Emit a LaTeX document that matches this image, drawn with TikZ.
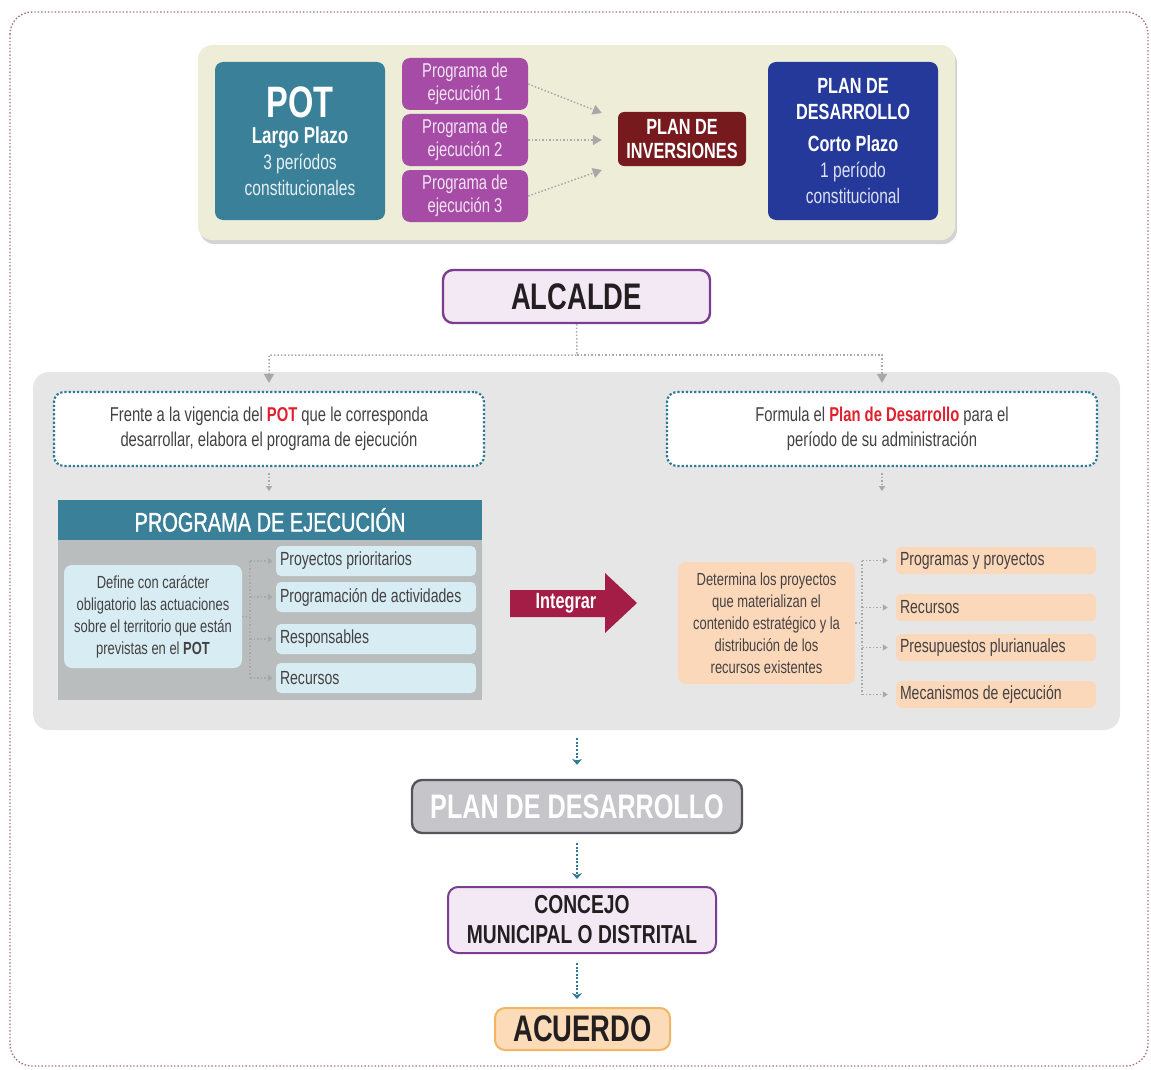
\documentclass[tikz,border=0pt]{standalone}
\usepackage{fontspec}
\setmainfont{Liberation Sans}[FakeStretch=0.74]
\newfontfamily\semib{Liberation Sans}[FakeStretch=0.74, FakeBold=1.2]
\usetikzlibrary{arrows.meta,shadows}
\newcommand\fsz[2]{\fontsize{#1}{#2}\selectfont}
\definecolor{beige}{HTML}{EEEED8}
\definecolor{potteal}{HTML}{3B8099}
\definecolor{magen}{HTML}{A64CA6}
\definecolor{dred}{HTML}{761A1E}
\definecolor{navy}{HTML}{24399A}
\definecolor{lav}{HTML}{F3E9F5}
\definecolor{purp}{HTML}{7B3D90}
\definecolor{panelg}{HTML}{E6E6E6}
\definecolor{dteal}{HTML}{2D7A94}
\definecolor{redt}{HTML}{E0202E}
\definecolor{bodyg}{HTML}{B9BDBD}
\definecolor{lblue}{HTML}{D7EDF3}
\definecolor{crim}{HTML}{A41D47}
\definecolor{lorange}{HTML}{FCD8BA}
\definecolor{plang}{HTML}{C6C5CA}
\definecolor{planb}{HTML}{57555A}
\definecolor{acf}{HTML}{FCDCB8}
\definecolor{acb}{HTML}{F2B563}
\definecolor{txt}{HTML}{231F20}
\definecolor{frame}{HTML}{A8707E}
\definecolor{garrow}{HTML}{A8A8A8}
\begin{document}
\begin{tikzpicture}[x=1pt,y=-1pt,
  box/.style={rectangle, rounded corners=8pt, align=center, inner sep=2pt},
  gdot/.style={draw=garrow, dotted, line width=1.5pt},
  garr/.style={gdot, -{Triangle[length=9pt,width=10pt]}},
  bdot/.style={draw=dteal, line width=2.6pt, dash pattern=on 2pt off 1.6pt, -{Stealth[length=6pt,width=10pt]}},
  prog/.style={box, fill=magen, text=magen!15, minimum width=126, minimum height=52, font=\fsz{20}{23}},
  item/.style={rectangle, rounded corners=5pt, fill=lblue, text=txt!85, text width=192, align=flush left, inner xsep=4pt, minimum height=30, font=\fsz{19}{22}},
  oitem/.style={item, fill=lorange, minimum height=27},
  dbox/.style={box, fill=white, draw=dteal, dotted, line width=2.2pt, rounded corners=10pt, minimum width=430, minimum height=74, text=txt!85, font=\fsz{20}{25}},
  bigbox/.style={box, rounded corners=10pt, line width=2.4pt, text=txt}
]
\useasboundingbox (0,0) rectangle (1151,1070);
% outer frame
\draw[frame, dotted, line width=1.4pt, rounded corners=22pt] (10,12) rectangle (1148,1066);

% top panel
\node[fill=beige, rounded corners=14pt, minimum width=757, minimum height=195, drop shadow={opacity=0.35, shadow xshift=2pt, shadow yshift=-4pt}] (top) at (576.5,142.5) {};
\node[box, fill=potteal, text=white, minimum width=170, minimum height=158, font=\fsz{21}{26}] (pot) at (300,141)
  {{\fsz{44}{40}\bfseries POT}\\{\fsz{23}{28}\bfseries Largo Plazo}\\{\color{white!88!potteal}3 períodos}\\{\color{white!88!potteal}constitucionales}};
\node[prog] (pe1) at (465,84) {Programa de\\ejecución 1};
\node[prog] (pe2) at (465,140) {Programa de\\ejecución 2};
\node[prog] (pe3) at (465,196) {Programa de\\ejecución 3};
\node[box, rounded corners=6pt, fill=dred, text=white, minimum width=128, minimum height=54, font=\fsz{22}{24}\bfseries] (pi) at (682,139) {PLAN DE\\INVERSIONES};
\node[box, fill=navy, text=white, minimum width=170, minimum height=158, font=\fsz{21}{26}] (pd) at (853,141)
  {{\fsz{22}{26}\bfseries PLAN DE}\\{\fsz{22}{26}\bfseries DESARROLLO}\\[6pt]{\fsz{22}{26}\bfseries Corto Plazo}\\{\color{white!85!navy}1 período}\\{\color{white!85!navy}constitucional}};
\draw[garr] (pe1.east) -- ([shift={(-16pt,26pt)}]pi.west);
\draw[garr] (pe2.east) -- ([shift={(-16pt,-1pt)}]pi.west);
\draw[garr] (pe3.east) -- ([shift={(-16pt,-31pt)}]pi.west);

% alcalde
\node[bigbox, fill=lav, draw=purp, minimum width=267, minimum height=53, font=\fsz{37}{40}\bfseries] (alc) at (576.5,296.5) {ALCALDE};

% grey panel
\node[fill=panelg, rounded corners=16pt, minimum width=1087, minimum height=358] (panel) at (576.5,551) {};
\node[dbox] (lbox) at (269,429) {Frente a la vigencia del {\color{redt}\bfseries POT} que le corresponda\\desarrollar, elabora el programa de ejecución};
\node[dbox] (rbox) at (882,429) {Formula el {\color{redt}\bfseries Plan de Desarrollo} para el\\período de su administración};
\coordinate (split) at (577,355);
\draw[garr] (alc.south) -- (split) -| ([yshift=8pt]lbox.north);
\draw[garr] (split) -| ([yshift=8pt]rbox.north);
\draw[gdot, -{Triangle[length=5pt,width=6pt]}] ([yshift=-6pt]lbox.south) -- ++(0,18);
\draw[gdot, -{Triangle[length=5pt,width=6pt]}] ([yshift=-6pt]rbox.south) -- ++(0,18);

% programa de ejecucion
\node[fill=potteal, text=white, minimum width=424, minimum height=40, inner sep=0pt, font=\fsz{27}{30}\semib] (phead) at (270,520) {PROGRAMA DE EJECUCIÓN};
\node[fill=bodyg, minimum width=424, minimum height=160, inner sep=0pt, anchor=north] (pbody) at (phead.south) {};
\node[box, fill=lblue, text=txt!85, minimum width=178, minimum height=103, font=\fsz{17.5}{22}] (def) at (153,616.5)
  {Define con carácter\\obligatorio las actuaciones\\sobre el territorio que están\\previstas en el {\bfseries POT}};
\node[item] (i1) at (376,561) {Proyectos prioritarios};
\node[item] (i2) at (376,597) {Programación de actividades};
\node[item] (i3) at (376,639) {Responsables};
\node[item] (i4) at (376,678) {Recursos};
\coordinate (bx) at (250,617);
\draw[gdot] (bx |- i1.west) -- (bx |- i4.west);
\draw[gdot] (def.east) -- (bx);
\foreach \i in {1,2,3,4} \draw[gdot, -{Triangle[length=5pt,width=6pt]}] (bx |- i\i.west) -- ([xshift=-3pt]i\i.west);

% integrar arrow
\fill[crim] (510,590) -- (605,590) -- (605,573) -- (637,603) -- (605,633) -- (605,617) -- (510,617) -- cycle;
\node[text=white, font=\fsz{22}{24}\bfseries] (integ) at (566,603) {Integrar};

% right side
\node[box, fill=lorange, text=txt!85, minimum width=177, minimum height=122, font=\fsz{17.5}{22}] (det) at (766.5,623)
  {Determina los proyectos\\que materializan el\\contenido estratégico y la\\distribución de los\\recursos existentes};
\node[oitem] (o1) at (996,560.5) {Programas y proyectos};
\node[oitem] (o2) at (996,607.5) {Recursos};
\node[oitem] (o3) at (996,647.5) {Presupuestos plurianuales};
\node[oitem] (o4) at (996,694.5) {Mecanismos de ejecución};
\coordinate (bx2) at (862,623);
\draw[gdot] (bx2 |- o1.west) -- (bx2 |- o4.west);
\draw[gdot] (det.east) -- (bx2);
\foreach \i in {1,2,3,4} \draw[gdot, -{Triangle[length=5pt,width=6pt]}] (bx2 |- o\i.west) -- ([xshift=-8pt]o\i.west);

% bottom chain
\node[bigbox, fill=plang, draw=planb, text=white, minimum width=330, minimum height=53, font=\fsz{34}{40}\bfseries] (plan) at (577,806.5) {PLAN DE DESARROLLO};
\node[bigbox, fill=lav, draw=purp, line width=2pt, minimum width=268, minimum height=66, font=\fsz{26}{30}\bfseries] (conc) at (582,920) {CONCEJO\\MUNICIPAL O DISTRITAL};
\node[bigbox, fill=acf, draw=acb, line width=2pt, minimum width=175, minimum height=42, font=\fsz{37}{40}\bfseries] (acu) at (582.5,1029) {ACUERDO};
\draw[bdot, shorten <=8pt, shorten >=14pt] (panel.south -| plan.north) -- (plan.north);
\draw[bdot, shorten <=9pt, shorten >=7pt] (plan.south) -- (plan.south |- conc.north);
\draw[bdot, shorten <=9pt, shorten >=8pt] (conc.south -| plan.south) -- (plan.south |- acu.north);
\end{tikzpicture}
\end{document}
